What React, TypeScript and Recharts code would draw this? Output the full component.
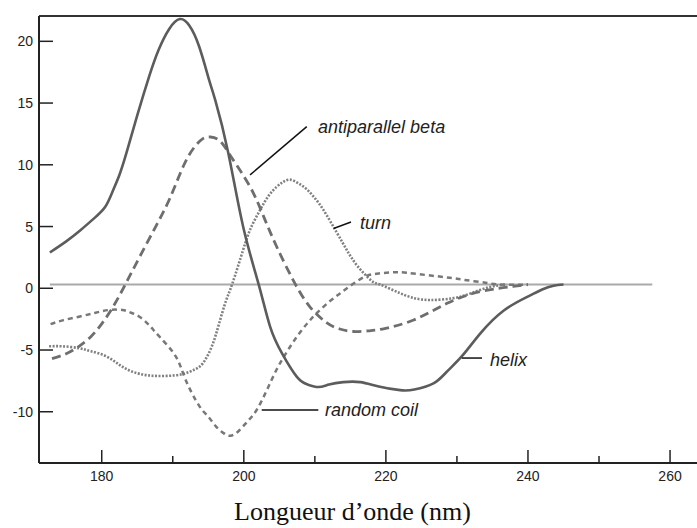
import React from "react";
import { LineChart, Line, XAxis, YAxis, ReferenceLine, ReferenceDot } from "recharts";

// wavelength (nm) / ellipticity pairs
const helixX = [172.7, 175, 177, 179, 180.5, 181.5, 182.5, 183.5, 185, 186.7, 188, 189.5, 191, 192.3, 193.7, 195.1, 196, 197.8, 199.9, 202.1, 203.7, 205.4, 207.5, 209, 210.5, 212, 214, 216.4, 219, 222, 224, 226.7, 228.5, 230.7, 233.3, 236.6, 239.9, 242, 243.6, 245];
const helixY = [2.9, 3.8, 4.7, 5.7, 6.6, 7.8, 9.2, 11.0, 14.0, 17.2, 19.3, 21.0, 21.8, 21.3, 19.6, 16.9, 15.2, 11.0, 5.0, 0.3, -3.1, -5.3, -7.2, -7.8, -8.0, -7.8, -7.6, -7.6, -7.95, -8.25, -8.2, -7.7, -6.8, -5.5, -3.65, -1.8, -0.7, -0.1, 0.2, 0.3];

const betaX = [173, 175, 176.8, 178.5, 180.1, 181.8, 183.4, 185.3, 187.6, 189.6, 191.5, 193, 194.2, 195.3, 196.5, 197.5, 198.5, 200.9, 202.8, 204.6, 207, 209.3, 211.7, 213.5, 215.4, 217.5, 219.5, 223.9, 228.6, 233.3, 237.9, 240];
const betaY = [-5.7, -5.3, -4.7, -3.9, -2.8, -1.3, 0.4, 2.5, 5.0, 7.3, 9.9, 11.4, 12.1, 12.25, 12.0, 11.3, 10.4, 8.2, 5.8, 3.4, 0.6, -1.5, -2.8, -3.3, -3.5, -3.45, -3.3, -2.57, -1.22, -0.27, 0.15, 0.3];

const turnX = [172.6, 174.5, 176.8, 178.5, 180.6, 182.5, 184.3, 186.5, 189, 191.4, 193, 194.2, 195.5, 196.5, 197.5, 198.4, 199.9, 201, 202.3, 203.5, 204.6, 205.5, 206.5, 207.7, 208.9, 210, 211.2, 213.1, 214.5, 216, 218, 219.2, 222, 224, 226.2, 229.5, 232, 234.6, 237];
const turnY = [-4.7, -4.7, -4.85, -5.1, -5.5, -6.2, -6.75, -7.05, -7.1, -6.95, -6.6, -6.1, -4.7, -2.9, -1.0, 0.4, 3.1, 4.9, 6.35, 7.5, 8.2, 8.6, 8.8, 8.5, 8.0, 7.3, 6.35, 4.5, 3.1, 1.8, 0.6, 0.3, -0.4, -0.8, -0.95, -0.8, -0.4, 0.1, 0.3];

const coilX = [172.8, 174.5, 176.8, 179, 181, 182.9, 184, 185.3, 186.7, 188.1, 190.4, 191.8, 193.7, 195, 196.1, 197.2, 198.1, 199.2, 200.5, 201.8, 203.2, 204.6, 206, 207.5, 209, 210.3, 212, 213.6, 215.5, 217.3, 219, 221, 223, 226, 229, 231.4, 234, 236.1, 240];
const coilY = [-2.9, -2.6, -2.3, -2.0, -1.76, -1.76, -1.95, -2.3, -3.0, -3.9, -5.5, -7.4, -9.5, -10.4, -11.2, -11.75, -11.95, -11.6, -10.8, -9.86, -8.3, -6.6, -5.2, -3.9, -2.8, -2.0, -1.1, -0.4, 0.4, 1.0, 1.2, 1.3, 1.25, 1.05, 0.85, 0.65, 0.45, 0.3, 0.3];

const baseX = [172.7, 257.5];
const baseY = [0.3, 0.3];

const xDomain = [171.17, 265.06];
const yDomain = [-14.15, 22.05];
const xTicks = [180, 190, 200, 210, 220, 230, 240, 250, 260];
const yTicks = [-10, -5, 0, 5, 10, 15, 20];

// annotations: label text, text anchor point, leader line (data coordinates)
const annText = ["antiparallel beta", "turn", "helix", "random coil"];
const annTextX = [210.45, 216.36, 234.66, 211.43];
const annTextY = [12.58, 4.8, -6.29, -10.35];
const annLineX1 = [208.86, 212.63, 230.68, 202.52];
const annLineY1 = [13.09, 4.84, -5.65, -9.86];
const annLineX2 = [200.88, 215.09, 233.53, 210.49];
const annLineY2 = [9.18, 5.37, -5.65, -9.86];

const zip = (xs: number[], ys: number[]) => xs.map((x, i) => ({ x, y: ys[i] }));

const helix = zip(helixX, helixY);
const beta = zip(betaX, betaY);
const turn = zip(turnX, turnY);
const coil = zip(coilX, coilY);
const base = zip(baseX, baseY);

const SANS = "'Liberation Sans', Arial, sans-serif";

const XTick = (p: any) => {
  const v = p.payload.value;
  const major = v % 20 === 0;
  return (
    <g>
      <line x1={p.x} x2={p.x} y1={p.y} y2={p.y - (major ? 13 : 7)} stroke="#222" strokeWidth={1.5} />
      {major && (
        <text x={p.x} y={p.y + 18} textAnchor="middle" fontSize={14} fontFamily={SANS} fill="#222">
          {v}
        </text>
      )}
    </g>
  );
};

const YTickLeft = (p: any) => (
  <g>
    <line x1={p.x} x2={p.x + 14} y1={p.y} y2={p.y} stroke="#222" strokeWidth={1.5} />
    <text x={p.x - 6} y={p.y + 5} textAnchor="end" fontSize={14} fontFamily={SANS} fill="#222">
      {p.payload.value}
    </text>
  </g>
);

const YTickRight = (p: any) => (
  <g>
    <line x1={p.x - 14} x2={p.x} y1={p.y} y2={p.y} stroke="#222" strokeWidth={1.5} />
  </g>
);

export default function App() {
  return (
    <div
      style={{
        position: "absolute",
        left: 0,
        top: 0,
        width: 697,
        height: 528,
        overflow: "hidden",
        background: "#fff",
        fontFamily: SANS,
      }}
    >
      <LineChart width={706} height={528} margin={{ top: 16, right: 0, bottom: 0, left: 0 }}>
        <XAxis
          xAxisId="b"
          type="number"
          dataKey="x"
          domain={xDomain}
          allowDataOverflow
          ticks={xTicks}
          height={65}
          tickSize={0}
          tickMargin={0}
          tickLine={false}
          tick={<XTick />}
          axisLine={{ stroke: "#222", strokeWidth: 2 }}
          interval={0}
        />
        <YAxis
          yAxisId="l"
          type="number"
          domain={yDomain}
          allowDataOverflow
          ticks={yTicks}
          width={39}
          tickSize={0}
          tickMargin={0}
          tickLine={false}
          tick={<YTickLeft />}
          axisLine={{ stroke: "#222", strokeWidth: 2 }}
          interval={0}
        />
        <YAxis
          yAxisId="r"
          orientation="right"
          type="number"
          domain={yDomain}
          allowDataOverflow
          ticks={yTicks}
          width={0}
          tickSize={0}
          tickMargin={0}
          tickLine={false}
          tick={<YTickRight />}
          axisLine={false}
          interval={0}
        />
        <ReferenceLine xAxisId="b" yAxisId="l" y={yDomain[1]} stroke="#333" strokeWidth={2} />
        <Line xAxisId="b" yAxisId="l" data={base} dataKey="y" type="linear" stroke="#aaaaaa" strokeWidth={2} dot={false} isAnimationActive={false} />
        <Line xAxisId="b" yAxisId="l" data={turn} dataKey="y" type="natural" stroke="#808080" strokeWidth={2.6} strokeDasharray="2 1.5" dot={false} isAnimationActive={false} />
        <Line xAxisId="b" yAxisId="l" data={coil} dataKey="y" type="natural" stroke="#787878" strokeWidth={2.5} strokeDasharray="5 4" dot={false} isAnimationActive={false} />
        <Line xAxisId="b" yAxisId="l" data={beta} dataKey="y" type="natural" stroke="#6e6e6e" strokeWidth={2.8} strokeDasharray="9 5" dot={false} isAnimationActive={false} />
        <Line xAxisId="b" yAxisId="l" data={helix} dataKey="y" type="natural" stroke="#5c5c5c" strokeWidth={2.6} dot={false} isAnimationActive={false} />
        {annText.map((t, i) => (
          <ReferenceLine
            key={"l" + i}
            xAxisId="b"
            yAxisId="l"
            segment={[
              { x: annLineX1[i], y: annLineY1[i] },
              { x: annLineX2[i], y: annLineY2[i] },
            ]}
            stroke="#111"
            strokeWidth={1.5}
          />
        ))}
        {annText.map((t, i) => (
          <ReferenceDot
            key={"t" + i}
            xAxisId="b"
            yAxisId="l"
            x={annTextX[i]}
            y={annTextY[i]}
            r={0}
            fill="none"
            stroke="none"
            label={(p: any) => (
              <text
                x={p.viewBox.x}
                y={p.viewBox.y}
                fontSize={18}
                fontStyle="italic"
                fontFamily={SANS}
                fill="#222"
              >
                {t}
              </text>
            )}
          />
        ))}
      </LineChart>
      <div
        style={{
          position: "absolute",
          left: 0,
          width: 697,
          top: 497,
          textAlign: "center",
          fontFamily: "'Liberation Serif', 'Times New Roman', serif",
          fontSize: 26,
          lineHeight: "30px",
          color: "#111",
          paddingLeft: 4,
        }}
      >
        Longueur d’onde (nm)
      </div>
    </div>
  );
}
